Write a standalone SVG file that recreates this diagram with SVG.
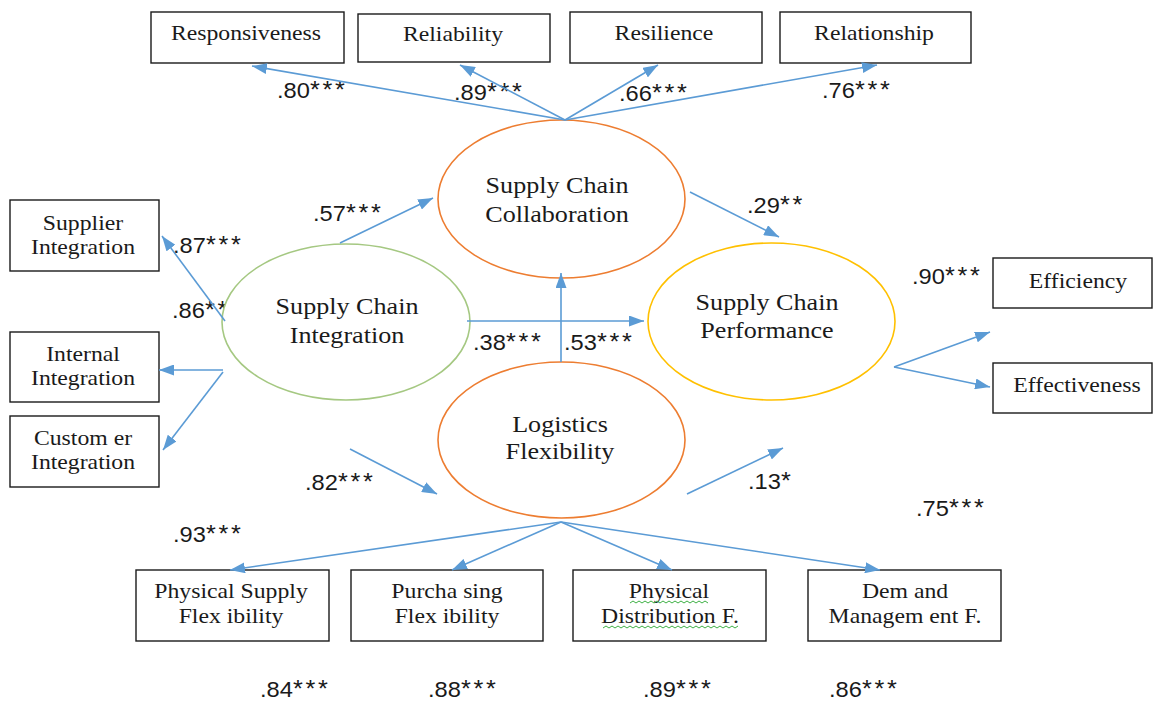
<svg xmlns="http://www.w3.org/2000/svg" width="1157" height="702" viewBox="0 0 1157 702">
  <style>
    .box { fill: #ffffff; stroke: #1a1a1a; stroke-width: 1.4; }
    .lv { fill: #ffffff; stroke-width: 1.6; }
    .lbl { font-family: "Liberation Serif", "Times New Roman", serif; font-size: 21px; fill: #1a1a1a; text-anchor: middle; }
    .big { font-family: "Liberation Serif", "Times New Roman", serif; font-size: 22.6px; fill: #1a1a1a; text-anchor: middle; }
    .num { font-family: "Liberation Sans", Arial, sans-serif; font-size: 21.5px; fill: #1a1a1a; }
    .st { font-size: 23px; letter-spacing: 2.5px; }
    .edge { stroke: #5b9bd5; stroke-width: 1.6; fill: none; marker-end: url(#head); }
    .wave { stroke: #3cb043; stroke-width: 1; fill: none; }
  </style>
  <defs>
    <marker id="head" markerUnits="userSpaceOnUse" markerWidth="15" markerHeight="11" refX="15" refY="5.5" orient="auto">
      <path d="M0,0 L15,5.5 L0,11 z" fill="#5b9bd5"/>
    </marker>
  </defs>

  <rect width="1157" height="702" fill="#ffffff"/>

  <!-- path coefficients and loadings -->
  <g id="coefficients">
    <text class="num" transform="translate(277 98) scale(1.1 1)">.80<tspan class="st">***</tspan></text>
    <text class="num" transform="translate(454 100) scale(1.1 1)">.89<tspan class="st">***</tspan></text>
    <text class="num" transform="translate(619 101) scale(1.1 1)">.66<tspan class="st">***</tspan></text>
    <text class="num" transform="translate(822 98) scale(1.1 1)">.76<tspan class="st">***</tspan></text>
    <text class="num" transform="translate(313 221) scale(1.1 1)">.57<tspan class="st">***</tspan></text>
    <text class="num" transform="translate(747 213) scale(1.1 1)">.29<tspan class="st">**</tspan></text>
    <text class="num" transform="translate(173 253) scale(1.1 1)">.87<tspan class="st">***</tspan></text>
    <text class="num" transform="translate(172 318) scale(1.1 1)">.86<tspan class="st">***</tspan></text>
    <text class="num" transform="translate(912 284) scale(1.1 1)">.90<tspan class="st">***</tspan></text>
    <text class="num" transform="translate(473 350) scale(1.1 1)">.38<tspan class="st">***</tspan></text>
    <text class="num" transform="translate(564 350) scale(1.1 1)">.53<tspan class="st">***</tspan></text>
    <text class="num" transform="translate(305 490) scale(1.1 1)">.82<tspan class="st">***</tspan></text>
    <text class="num" transform="translate(748 489) scale(1.1 1)">.13<tspan class="st">*</tspan></text>
    <text class="num" transform="translate(916 516) scale(1.1 1)">.75<tspan class="st">***</tspan></text>
    <text class="num" transform="translate(173 542) scale(1.1 1)">.93<tspan class="st">***</tspan></text>
    <text class="num" transform="translate(260 697) scale(1.1 1)">.84<tspan class="st">***</tspan></text>
    <text class="num" transform="translate(428 697) scale(1.1 1)">.88<tspan class="st">***</tspan></text>
    <text class="num" transform="translate(643 697) scale(1.1 1)">.89<tspan class="st">***</tspan></text>
    <text class="num" transform="translate(829 697) scale(1.1 1)">.86<tspan class="st">***</tspan></text>
  </g>

  <!-- latent constructs -->
  <g id="collaboration">
    <ellipse class="lv" cx="561.5" cy="199" rx="123.5" ry="79" stroke="#ed7d31"/>
    <text class="big" transform="translate(557 193) scale(1.156 1)">Supply Chain</text>
    <text class="big" transform="translate(557 222) scale(1.156 1)">Collaboration</text>
  </g>
  <g id="integration">
    <ellipse class="lv" cx="346" cy="322" rx="124" ry="78" stroke="#a5c882"/>
    <text class="big" transform="translate(347 314) scale(1.156 1)">Supply Chain</text>
    <text class="big" transform="translate(347 343) scale(1.156 1)">Integration</text>
  </g>
  <g id="performance">
    <ellipse class="lv" cx="771.5" cy="321.5" rx="123.5" ry="78.5" stroke="#ffc000"/>
    <text class="big" transform="translate(767 310) scale(1.156 1)">Supply Chain</text>
    <text class="big" transform="translate(767 338) scale(1.156 1)">Performance</text>
  </g>
  <g id="flexibility">
    <ellipse class="lv" cx="561.5" cy="440" rx="123.5" ry="78" stroke="#ed7d31"/>
    <text class="big" transform="translate(560 432) scale(1.156 1)">Logistics</text>
    <text class="big" transform="translate(560 459) scale(1.156 1)">Flexibility</text>
  </g>

  <!-- collaboration indicators -->
  <g id="responsiveness">
    <rect class="box" x="151" y="12" width="193" height="51"/>
    <text class="lbl" transform="translate(246 40) scale(1.13 1)">Responsiveness</text>
  </g>
  <g id="reliability">
    <rect class="box" x="358" y="14" width="192" height="48"/>
    <text class="lbl" transform="translate(453 41) scale(1.13 1)">Reliability</text>
  </g>
  <g id="resilience">
    <rect class="box" x="570" y="12" width="192" height="51"/>
    <text class="lbl" transform="translate(664 40) scale(1.13 1)">Resilience</text>
  </g>
  <g id="relationship">
    <rect class="box" x="780" y="12" width="191" height="51"/>
    <text class="lbl" transform="translate(874 40) scale(1.13 1)">Relationship</text>
  </g>

  <!-- integration indicators -->
  <g id="supplier-integration">
    <rect class="box" x="10" y="200" width="149" height="71"/>
    <text class="lbl" transform="translate(83 230) scale(1.13 1)">Supplier</text>
    <text class="lbl" transform="translate(83 254) scale(1.13 1)">Integration</text>
  </g>
  <g id="internal-integration">
    <rect class="box" x="10" y="332" width="149" height="70"/>
    <text class="lbl" transform="translate(83 361) scale(1.13 1)">Internal</text>
    <text class="lbl" transform="translate(83 385) scale(1.13 1)">Integration</text>
  </g>
  <g id="customer-integration">
    <rect class="box" x="10" y="416" width="149" height="71"/>
    <text class="lbl" transform="translate(83 445) scale(1.13 1)">Custom er</text>
    <text class="lbl" transform="translate(83 469) scale(1.13 1)">Integration</text>
  </g>

  <!-- performance indicators -->
  <g id="efficiency">
    <rect class="box" x="993" y="258" width="159" height="50"/>
    <text class="lbl" transform="translate(1078 288) scale(1.13 1)">Efficiency</text>
  </g>
  <g id="effectiveness">
    <rect class="box" x="993" y="363" width="159" height="50"/>
    <text class="lbl" transform="translate(1077 392) scale(1.13 1)">Effectiveness</text>
  </g>

  <!-- flexibility indicators -->
  <g id="physical-supply">
    <rect class="box" x="136" y="570" width="193" height="71"/>
    <text class="lbl" transform="translate(231 598) scale(1.13 1)">Physical Supply</text>
    <text class="lbl" transform="translate(231 623) scale(1.13 1)">Flex ibility</text>
  </g>
  <g id="purchasing">
    <rect class="box" x="351" y="570" width="192" height="71"/>
    <text class="lbl" transform="translate(447 598) scale(1.13 1)">Purcha sing</text>
    <text class="lbl" transform="translate(447 623) scale(1.13 1)">Flex ibility</text>
  </g>
  <g id="physical-distribution">
    <rect class="box" x="573" y="570" width="193" height="71"/>
    <text class="lbl" transform="translate(669 598) scale(1.13 1)">Physical</text>
    <text class="lbl" transform="translate(670 623) scale(1.13 1)">Distribution F.</text>
    <path class="wave" d="M630,603 l3,-2 l3,2 l3,-2 l3,2 l3,-2 l3,2 l3,-2 l3,2 l3,-2 l3,2 l3,-2 l3,2 l3,-2 l3,2 l3,-2 l3,2 l3,-2 l3,2 l3,-2 l3,2 l3,-2 l3,2 l3,-2 l3,2 l3,-2 l3,2"/>
    <path class="wave" d="M603,628 l3,-2 l3,2 l3,-2 l3,2 l3,-2 l3,2 l3,-2 l3,2 l3,-2 l3,2 l3,-2 l3,2 l3,-2 l3,2 l3,-2 l3,2 l3,-2 l3,2 l3,-2 l3,2 l3,-2 l3,2 l3,-2 l3,2 l3,-2 l3,2 l3,-2 l3,2 l3,-2 l3,2 l3,-2 l3,2 l3,-2 l3,2 l3,-2 l3,2 l3,-2 l3,2 l3,-2 l3,2 l3,-2 l3,2 l3,-2 l3,2 l3,-2"/>
  </g>
  <g id="demand-management">
    <rect class="box" x="808" y="570" width="193" height="71"/>
    <text class="lbl" transform="translate(905 598) scale(1.13 1)">Dem and</text>
    <text class="lbl" transform="translate(905 623) scale(1.13 1)">Managem ent F.</text>
  </g>

  <!-- connectors -->
  <g id="connectors">
    <line class="edge" x1="565" y1="120" x2="252" y2="66"/>
    <line class="edge" x1="565" y1="120" x2="460" y2="65"/>
    <line class="edge" x1="565" y1="120" x2="658" y2="65"/>
    <line class="edge" x1="565" y1="120" x2="877" y2="65"/>
    <line class="edge" x1="340" y1="243" x2="433" y2="198"/>
    <line class="edge" x1="690" y1="192" x2="779" y2="237"/>
    <line class="edge" x1="467" y1="321" x2="644" y2="321"/>
    <line class="edge" x1="561" y1="362" x2="561" y2="273"/>
    <line class="edge" x1="225" y1="321" x2="162" y2="236"/>
    <line class="edge" x1="223" y1="370" x2="159" y2="370"/>
    <line class="edge" x1="223" y1="372" x2="163" y2="450"/>
    <line class="edge" x1="350" y1="449" x2="437" y2="494"/>
    <line class="edge" x1="687" y1="494" x2="783" y2="448"/>
    <line class="edge" x1="894" y1="367" x2="990" y2="332"/>
    <line class="edge" x1="894" y1="367" x2="990" y2="387"/>
    <line class="edge" x1="561" y1="522" x2="230" y2="570"/>
    <line class="edge" x1="561" y1="522" x2="452" y2="570"/>
    <line class="edge" x1="561" y1="522" x2="672" y2="570"/>
    <line class="edge" x1="561" y1="522" x2="880" y2="570"/>
  </g>
</svg>
